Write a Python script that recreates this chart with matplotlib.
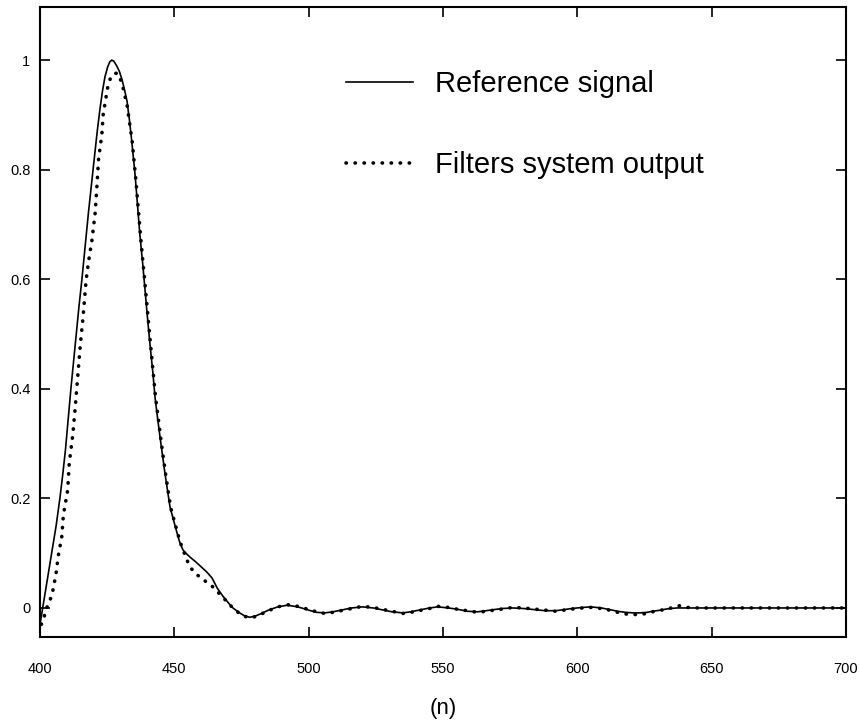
import matplotlib
matplotlib.use("Agg")
import matplotlib.pyplot as plt

# reference signal (solid)
n_ref = [400, 401, 402, 403, 404, 405, 406, 407.4, 408.5, 409.5, 410.5, 411.5,
         412.5, 413.5, 414.5, 415.6, 416.8, 418, 419.2, 420.3, 421.3, 422.3,
         423.3, 424.2, 425.2, 426, 426.7, 427.5, 428.5, 429.5, 430.5, 431.5,
         432.4, 433.3, 434.2, 435.4, 436.3, 437.2, 438.2, 439.1, 440, 441, 442,
         442.8, 443.8, 445, 446.5, 448.4, 450, 451, 452, 453.2, 454.5, 455.8,
         458, 460, 462, 464, 466, 468, 470, 471.8, 474, 476, 478, 480, 482, 485,
         488.5, 492, 496, 500, 503, 506, 509, 512, 516, 520, 524, 527, 531, 535,
         538, 541, 545, 548, 552, 555, 559, 563, 566, 569, 572, 576, 580, 584,
         588, 592, 595, 598, 602, 605, 609, 612, 615, 618, 621, 623, 626, 628,
         631, 633, 637, 641, 645, 660, 680, 700]
y_ref = [-0.03, 0.0, 0.03, 0.06, 0.09, 0.12, 0.15, 0.2, 0.245, 0.29, 0.345, 0.4,
         0.45, 0.5, 0.55, 0.6, 0.66, 0.72, 0.775, 0.825, 0.87, 0.91,
         0.945, 0.97, 0.988, 0.997, 1.0, 0.998, 0.99, 0.98, 0.965, 0.945,
         0.925, 0.89, 0.85, 0.79, 0.735, 0.68, 0.63, 0.58, 0.53, 0.478, 0.43,
         0.385, 0.345, 0.3, 0.246, 0.184, 0.155, 0.137, 0.12, 0.106, 0.099, 0.093,
         0.084, 0.075, 0.066, 0.055, 0.036, 0.022, 0.01, 0.0, -0.008, -0.014, -0.017, -0.015, -0.011, -0.004,
         0.002, 0.005, 0.002, -0.004, -0.008, -0.009, -0.007, -0.004, 0.0, 0.002, 0.0, -0.003, -0.007, -0.009,
         -0.007, -0.004, 0.0, 0.002, 0.0, -0.002, -0.006, -0.007, -0.005, -0.003, -0.001, 0.0, -0.001, -0.003,
         -0.005, -0.005, -0.003, -0.001, 0.001, 0.002, 0.0, -0.003, -0.006, -0.008, -0.009, -0.009, -0.008, -0.006,
         -0.004, -0.002, 0.0, 0.0, 0.0, 0.0, 0.0, 0.0]

# filters system output (dotted)
n_out = [400.5, 401.6, 402.5, 403.3, 404, 405, 406, 406.8, 408.1, 408.7, 410.3,
         410.9, 412.2, 413, 414, 415, 416, 417.2, 418.3, 419.3, 420.5, 421.2,
         421.8, 423, 423.5, 424.5, 425.3, 426.4, 427.9, 429, 430.5, 432.4, 434.3,
         435.6, 437.4, 439.3, 441.2, 443, 445.2, 446.7, 448.6, 450.2, 451.2,
         452.2, 453.4, 454.5, 455.8, 458, 460, 462, 464, 466, 468, 470, 472, 474,
         476, 478, 480, 482, 485, 488.5, 492, 496, 500, 503, 506, 509, 512, 516,
         520, 524, 527, 531, 535, 538, 541, 545, 548, 552, 555, 559, 563, 566,
         569, 572, 576, 580, 584, 588, 592, 595, 598, 602, 605, 609, 612, 615,
         618, 621, 623, 626, 628, 631, 633, 636, 638, 641, 645, 650, 660, 680, 700]
y_out = [-0.03, -0.015, 0.0, 0.01, 0.018, 0.036, 0.064, 0.095, 0.13, 0.17, 0.215,
         0.265, 0.316, 0.36, 0.42, 0.48, 0.53, 0.6, 0.64, 0.67, 0.72, 0.77,
         0.82, 0.863, 0.9, 0.93, 0.953, 0.97, 0.976, 0.976, 0.958, 0.918, 0.852,
         0.786, 0.68, 0.58, 0.478, 0.385, 0.3, 0.246, 0.184, 0.155, 0.137,
         0.12, 0.104, 0.09, 0.075, 0.062, 0.055, 0.047, 0.04, 0.03, 0.02, 0.009, -0.001, -0.009,
         -0.015, -0.018, -0.016, -0.012, -0.005, 0.002, 0.006, 0.003, -0.003, -0.007, -0.01, -0.008, -0.005, -0.001,
         0.003, 0.001, -0.002, -0.006, -0.01, -0.008, -0.005, -0.001, 0.003, 0.001, -0.002, -0.005, -0.008, -0.006,
         -0.004, -0.002, 0.001, 0.0, -0.002, -0.004, -0.006, -0.004, -0.002, 0.0, 0.001, -0.001, -0.004, -0.008,
         -0.011, -0.012, -0.012, -0.01, -0.007, -0.004, -0.003, 0.002, 0.004, 0.001, 0.0, 0.0, 0.0, 0.0, 0.0]

x_ticks = [400, 450, 500, 550, 600, 650, 700]
y_ticks = [0, 0.2, 0.4, 0.6, 0.8, 1]
y_tick_labels = ["0", "0.2", "0.4", "0.6", "0.8", "1"]

plt.rcParams["font.family"] = ["Liberation Sans", "DejaVu Sans"]

fig = plt.figure(figsize=(8.6, 7.26), dpi=100)
ax = fig.add_axes([40 / 860, 1 - 637 / 726, 806 / 860, 630 / 726])

ax.plot(n_ref, y_ref, color="black", lw=1.2, label="Reference signal")
ax.plot(n_out, y_out, color="black", lw=2.6, linestyle=(0, (0.1, 2.4)),
        dash_capstyle="round", label="Filters system output")

ax.set_xlim(400, 700)
ax.set_ylim(-0.053, 1.097)
ax.set_xticks(x_ticks)
ax.set_yticks(y_ticks)
ax.set_yticklabels(y_tick_labels)
ax.tick_params(direction="in", length=7, width=1.2, top=True, right=True,
               labelsize=10.5)
ax.tick_params(axis="x", pad=18)
ax.tick_params(axis="y", pad=7)
for sp in ax.spines.values():
    sp.set_linewidth(1.5)

ax.set_xlabel("(n)", fontsize=16, labelpad=16)

leg = ax.legend(loc="upper left", bbox_to_anchor=(0.365, 0.918), frameon=False,
                fontsize=21, handlelength=2.3, handletextpad=0.75,
                labelspacing=1.8, borderaxespad=0)

fig.savefig("out.png", dpi=100)
